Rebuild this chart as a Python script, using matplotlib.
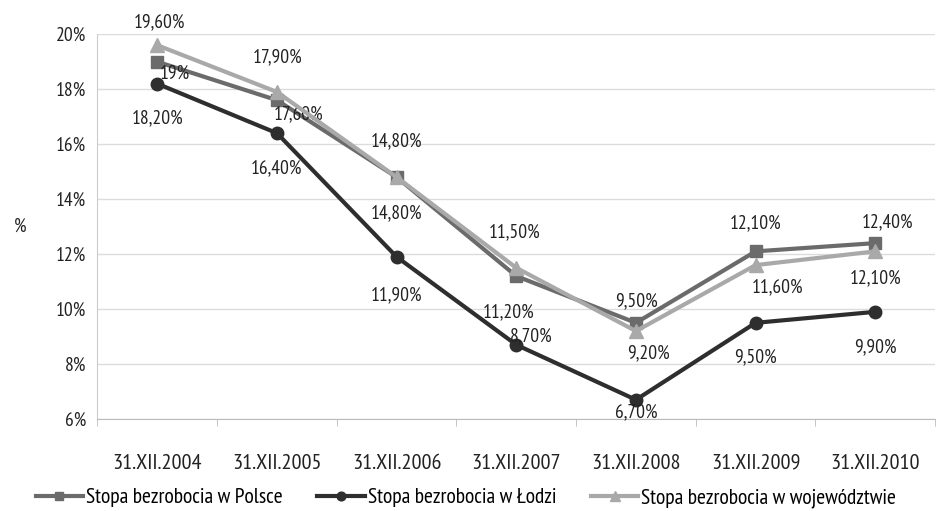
import matplotlib
matplotlib.use("Agg")
import matplotlib.pyplot as plt
from matplotlib import font_manager
import numpy as np

names = {f.name for f in font_manager.fontManager.ttflist}
fam = next((n for n in ["PT Sans Narrow", "Fira Sans Extra Condensed", "Asap Condensed", "Archivo Narrow"]
            if n in names), "DejaVu Sans")
plt.rcParams['font.family'] = [fam, 'DejaVu Sans']

categories = ["31.XII.2004", "31.XII.2005", "31.XII.2006", "31.XII.2007",
              "31.XII.2008", "31.XII.2009", "31.XII.2010"]
polska = [19.0, 17.6, 14.8, 11.2, 9.5, 12.1, 12.4]
lodz = [18.2, 16.4, 11.9, 8.7, 6.7, 9.5, 9.9]
woj = [19.6, 17.9, 14.8, 11.5, 9.2, 11.6, 12.1]
polska_lbl = ["19%", "17,60%", "14,80%", "11,20%", "9,50%", "12,10%", "12,40%"]
lodz_lbl = ["18,20%", "16,40%", "11,90%", "8,70%", "6,70%", "9,50%", "9,90%"]
woj_lbl = ["19,60%", "17,90%", "14,80%", "11,50%", "9,20%", "11,60%", "12,10%"]
yticks = [6, 8, 10, 12, 14, 16, 18, 20]

c_pl, c_lo, c_wo = "#6b6b6b", "#2e2e2e", "#a9a9a9"

fig = plt.figure(figsize=(9.37, 5.11), dpi=100)
ax = fig.add_axes([0.104, 0.18, 0.894, 0.753])
x = np.arange(len(categories))

ax.plot(x, polska, color=c_pl, lw=3, marker="s", ms=9, label="Stopa bezrobocia w Polsce", zorder=3)
ax.plot(x, lodz, color=c_lo, lw=3, marker="o", ms=9, label="Stopa bezrobocia w Łodzi", zorder=3)
ax.plot(x, woj, color=c_wo, lw=3, marker="^", ms=10, label="Stopa bezrobocia w województwie", zorder=4)

fs = 14
pl_off = [(18, -12), (22, -14), (0, -36), (-8, -36), (0, 22), (0, 28), (12, 21)]
lo_off = [(0, -35), (0, -35), (0, -38), (15, 9), (0, -12), (0, -34), (0, -35)]
wo_off = [(2, 23), (1, 35), (0, 36), (-2, 36), (12, -22), (22, -22), (0, -27)]
for i in x:
    ax.annotate(polska_lbl[i], (i, polska[i]), xytext=pl_off[i], textcoords="offset pixels",
                ha="center", va="center", fontsize=fs, color="#222")
    ax.annotate(lodz_lbl[i], (i, lodz[i]), xytext=lo_off[i], textcoords="offset pixels",
                ha="center", va="center", fontsize=fs, color="#222")
    ax.annotate(woj_lbl[i], (i, woj[i]), xytext=wo_off[i], textcoords="offset pixels",
                ha="center", va="center", fontsize=fs, color="#222")

ax.set_xlim(-0.5, len(categories) - 0.5)
ax.set_ylim(6, 20)
ax.set_yticks(yticks)
ax.set_yticklabels([f"{v}%" for v in yticks], fontsize=14, color="#222")
ax.set_xticks(x)
ax.set_xticklabels(categories, fontsize=16, color="#222")
ax.set_xticks(np.arange(-0.5, len(categories)), minor=True)
ax.tick_params(axis="x", which="major", length=0, pad=25)
ax.tick_params(axis="x", which="minor", length=5, color="#bbbbbb")
ax.tick_params(axis="y", length=0, pad=8)
ax.grid(axis="y", color="#dcdcdc", lw=1)
ax.set_axisbelow(True)
for s in ["top", "right"]:
    ax.spines[s].set_visible(False)
ax.spines["left"].set_color("#cccccc")
ax.spines["bottom"].set_color("#bbbbbb")
ax.set_ylabel("%", rotation=0, fontsize=14, color="#222", labelpad=26, va="center")

ax.legend(loc="upper center", bbox_to_anchor=(0.44, -0.13), ncol=3, frameon=False,
          fontsize=15.5, handlelength=2.2, markerscale=0.7, columnspacing=1.6, handletextpad=0.15)

fig.savefig("out.png", dpi=100)
